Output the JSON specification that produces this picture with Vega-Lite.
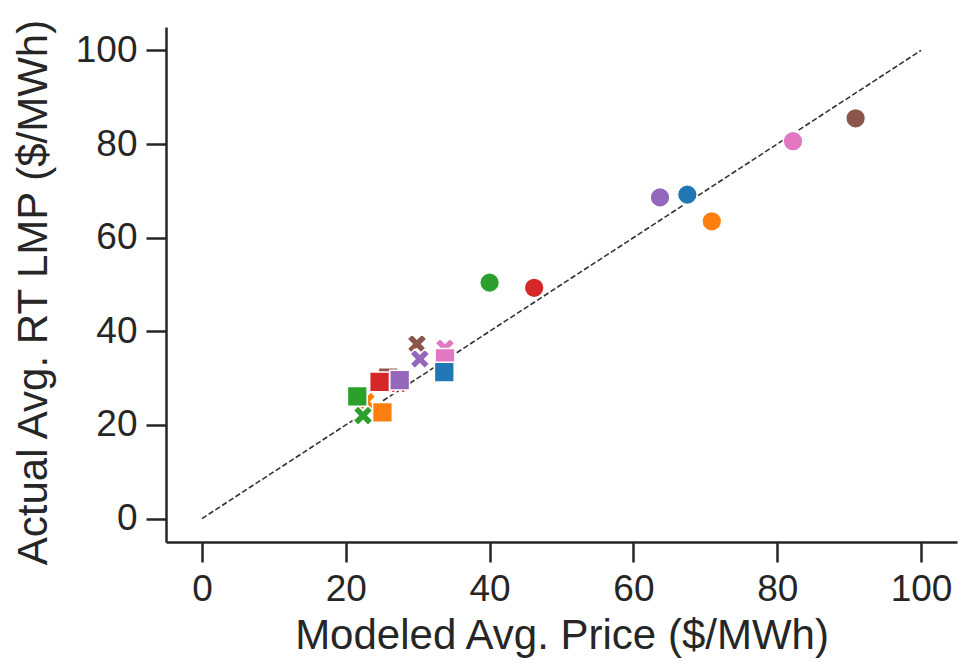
{
  "$schema": "https://vega.github.io/schema/vega-lite/v6.json",
  "width": 791,
  "height": 515,
  "autosize": {"type": "none"},
  "padding": {"left": 166, "top": 27, "right": 2, "bottom": 120},
  "background": "white",
  "config": {
    "view": {"stroke": null},
    "axis": {
      "grid": false,
      "domainColor": "#262626",
      "domainWidth": 2.5,
      "tickColor": "#262626",
      "tickWidth": 2.5,
      "tickSize": 20,
      "labelFont": "Liberation Sans",
      "labelFontSize": 37,
      "labelColor": "#262626",
      "labelPadding": 9,
      "labelFlush": false,
      "labelOverlap": false,
      "titleFont": "Liberation Sans",
      "titleFontSize": 42,
      "titleFontWeight": "normal",
      "titleColor": "#262626"
    }
  },
  "layer": [
    {
      "data": {"values": [{"x": 0, "y": 0}, {"x": 100, "y": 100}]},
      "mark": {"type": "line", "color": "#333333", "strokeWidth": 1.6, "strokeDash": [5.5, 2.5]},
      "encoding": {
        "x": {"field": "x", "type": "quantitative", "scale": {"domain": [-5, 105], "nice": false, "zero": false},
              "axis": {"values": [0, 20, 40, 60, 80, 100], "title": "Modeled Avg. Price ($/MWh)", "titlePadding": 8}},
        "y": {"field": "y", "type": "quantitative", "scale": {"domain": [-5, 105], "nice": false, "zero": false},
              "axis": {"values": [0, 20, 40, 60, 80, 100], "title": "Actual Avg. RT LMP ($/MWh)", "titlePadding": 20, "titleY": 265}}
      }
    },
    {
      "data": {
        "values": [
          {"region": "CAISO", "year": "2022", "modeled": 67.5, "actual": 69.2},
          {"region": "ERCOT", "year": "2022", "modeled": 70.9, "actual": 63.5},
          {"region": "ISONE", "year": "2022", "modeled": 40.0, "actual": 50.4},
          {"region": "MISO", "year": "2022", "modeled": 46.2, "actual": 49.3},
          {"region": "NYISO", "year": "2022", "modeled": 63.7, "actual": 68.6},
          {"region": "PJM", "year": "2022", "modeled": 90.9, "actual": 85.5},
          {"region": "SPP", "year": "2022", "modeled": 82.2, "actual": 80.6},
          {"region": "CAISO", "year": "2019", "modeled": 33.6, "actual": 31.4},
          {"region": "ERCOT", "year": "2019", "modeled": 22.8, "actual": 25.0},
          {"region": "MISO", "year": "2019", "modeled": 27.3, "actual": 28.8},
          {"region": "PJM", "year": "2019", "modeled": 29.9, "actual": 37.3},
          {"region": "NYISO", "year": "2019", "modeled": 30.3, "actual": 34.1},
          {"region": "SPP", "year": "2019", "modeled": 33.8, "actual": 36.4},
          {"region": "ISONE", "year": "2019", "modeled": 22.4, "actual": 22.0},
          {"region": "PJM", "year": "2020", "modeled": 25.9, "actual": 30.1},
          {"region": "MISO", "year": "2020", "modeled": 24.7, "actual": 29.2},
          {"region": "NYISO", "year": "2020", "modeled": 27.5, "actual": 29.6},
          {"region": "ISONE", "year": "2020", "modeled": 21.6, "actual": 26.1},
          {"region": "ERCOT", "year": "2020", "modeled": 25.1, "actual": 22.7},
          {"region": "SPP", "year": "2020", "modeled": 33.8, "actual": 34.2},
          {"region": "CAISO", "year": "2020", "modeled": 33.7, "actual": 31.3}
        ]
      },
      "mark": {"type": "point", "filled": true, "opacity": 1, "size": 390, "stroke": "white", "strokeWidth": 1.5},
      "encoding": {
        "x": {"field": "modeled", "type": "quantitative"},
        "y": {"field": "actual", "type": "quantitative"},
        "color": {"field": "region", "type": "nominal", "legend": null,
                  "scale": {"domain": ["CAISO", "ERCOT", "ISONE", "MISO", "NYISO", "PJM", "SPP"],
                            "range": ["#1f77b4", "#ff7f0e", "#2ca02c", "#d62728", "#9467bd", "#8c564b", "#e377c2"]}},
        "shape": {"field": "year", "type": "nominal", "legend": null,
                  "scale": {"domain": ["2022", "2019", "2020"],
                            "range": ["circle", "M0.5,-1L1,-0.5L0.5,0L1,0.5L0.5,1L0,0.5L-0.5,1L-1,0.5L-0.5,0L-1,-0.5L-0.5,-1L0,-0.5Z", "square"]}}
      }
    }
  ]
}
